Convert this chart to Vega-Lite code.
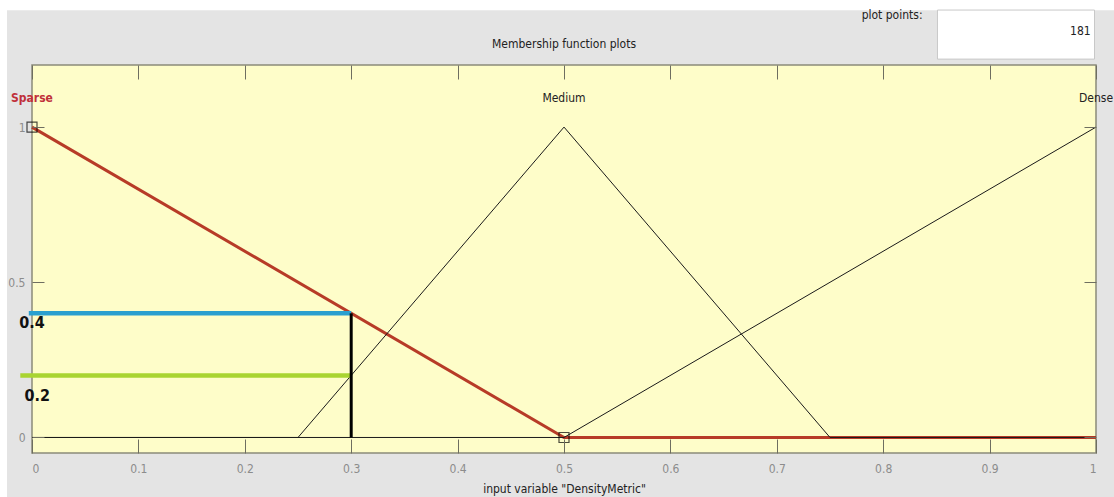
{
  "$schema": "https://vega.github.io/schema/vega-lite/v6.json",
  "width": 1064,
  "height": 388,
  "autosize": {"type": "none"},
  "padding": {"left": 32, "top": 65, "right": 18, "bottom": 44},
  "background": "#ffffff",
  "config": {
    "view": {"stroke": null},
    "font": "DejaVu Sans Condensed, Liberation Sans, sans-serif",
    "axis": {"grid": false, "domain": false, "tickColor": "#6e6e60", "labelColor": "#8c8c8c", "labelFont": "DejaVu Sans Condensed, Liberation Sans, sans-serif", "labelFontSize": 12}
  },
  "datasets": {
    "mf": [
      {"set": "Sparse", "x": 0, "mu": 1},
      {"set": "Sparse", "x": 0.5, "mu": 0},
      {"set": "Sparse", "x": 1, "mu": 0},
      {"set": "Medium", "x": 0, "mu": 0},
      {"set": "Medium", "x": 0.25, "mu": 0},
      {"set": "Medium", "x": 0.5, "mu": 1},
      {"set": "Medium", "x": 0.75, "mu": 0},
      {"set": "Medium", "x": 1, "mu": 0},
      {"set": "Dense", "x": 0, "mu": 0},
      {"set": "Dense", "x": 0.5, "mu": 0},
      {"set": "Dense", "x": 1, "mu": 1}
    ],
    "levels": [
      {"level": "0.4", "x0": -0.003, "x1": 0.3, "mu": 0.4, "c": "blue"},
      {"level": "0.2", "x0": -0.011, "x1": 0.3, "mu": 0.2, "c": "green"}
    ],
    "names": [
      {"name": "Sparse", "x": 0, "mu": 1.093},
      {"name": "Medium", "x": 0.5, "mu": 1.093},
      {"name": "Dense", "x": 1, "mu": 1.093}
    ]
  },
  "resolve": {"axis": {"x": "independent", "y": "independent"}},
  "layer": [
    {
      "data": {"values": [{"k": "bg"}]},
      "mark": {"type": "rect", "color": "#e4e4e4"},
      "encoding": {
        "x": {"datum": -0.0235, "type": "quantitative", "scale": {"domain": [0, 1], "nice": false, "zero": false},
          "axis": {"orient": "bottom", "zindex": 2, "values": [0, 0.1, 0.2, 0.3, 0.4, 0.5, 0.6, 0.7, 0.8, 0.9, 1], "format": "~g", "tickSize": -14, "labelPadding": 24, "title": "input variable \"DensityMetric\"", "titleFont": "DejaVu Sans Condensed, Liberation Sans, sans-serif", "titleFontSize": 12, "titleFontWeight": "normal", "titleColor": "#222222", "titlePadding": 9}},
        "x2": {"datum": 1.03},
        "y": {"datum": 1.3766, "type": "quantitative", "scale": {"domain": [-0.05, 1.2], "nice": false, "zero": false},
          "axis": {"orient": "left", "zindex": 2, "values": [0, 0.5, 1], "format": "~g", "tickSize": -12, "labelPadding": 19, "title": null}},
        "y2": {"datum": -0.3}
      }
    },
    {
      "data": {"values": [{"k": "plot"}]},
      "mark": {"type": "rect", "color": "#fefdc9", "stroke": "#8a8a7a", "strokeWidth": 1.5},
      "encoding": {
        "x": {"datum": 0, "type": "quantitative", "axis": {"orient": "top", "zindex": 2, "values": [0, 0.1, 0.2, 0.3, 0.4, 0.5, 0.6, 0.7, 0.8, 0.9, 1], "labels": false, "tickSize": -14, "title": null}},
        "x2": {"datum": 1},
        "y": {"datum": 1.2, "type": "quantitative", "axis": {"orient": "right", "zindex": 2, "values": [0, 0.5, 1], "labels": false, "tickSize": -12, "title": null}},
        "y2": {"datum": -0.05}
      }
    },
    {
      "data": {"values": [{"k": "box"}]},
      "mark": {"type": "rect", "color": "#ffffff", "stroke": "#c8c8c8", "strokeWidth": 1},
      "encoding": {
        "x": {"datum": 0.851, "type": "quantitative", "axis": null},
        "x2": {"datum": 0.9986},
        "y": {"datum": 1.377, "type": "quantitative", "axis": null},
        "y2": {"datum": 1.219}
      }
    },
    {
      "data": {"name": "mf"},
      "transform": [{"filter": "datum.set === 'Sparse'"}],
      "mark": {"type": "line", "color": "#b3301f", "strokeWidth": 3, "opacity": 0.95},
      "encoding": {
        "x": {"field": "x", "type": "quantitative", "axis": null},
        "y": {"field": "mu", "type": "quantitative", "axis": null}
      }
    },
    {
      "data": {"name": "mf"},
      "transform": [{"filter": "datum.set !== 'Sparse'"}],
      "mark": {"type": "line", "color": "#1a1a1a", "strokeWidth": 1},
      "encoding": {
        "x": {"field": "x", "type": "quantitative", "axis": null},
        "y": {"field": "mu", "type": "quantitative", "axis": null},
        "detail": {"field": "set"}
      }
    },
    {
      "data": {"name": "levels"},
      "mark": {"type": "rule", "strokeWidth": 4.5},
      "encoding": {
        "x": {"field": "x0", "type": "quantitative", "axis": null},
        "x2": {"field": "x1"},
        "y": {"field": "mu", "type": "quantitative", "axis": null},
        "color": {"condition": {"test": "datum.c === 'blue'", "value": "#2a9fcf"}, "value": "#a9d431"}
      }
    },
    {
      "data": {"values": [{"x": 0.3, "lo": 0, "hi": 0.4}]},
      "mark": {"type": "rule", "color": "#000000", "strokeWidth": 3},
      "encoding": {
        "x": {"field": "x", "type": "quantitative", "axis": null},
        "y": {"field": "lo", "type": "quantitative", "axis": null},
        "y2": {"field": "hi"}
      }
    },
    {
      "data": {"values": [{"x": 0, "mu": 1}, {"x": 0.5, "mu": 0}]},
      "mark": {"type": "square", "filled": false, "stroke": "#000000", "strokeWidth": 1.2, "size": 100},
      "encoding": {
        "x": {"field": "x", "type": "quantitative", "axis": null},
        "y": {"field": "mu", "type": "quantitative", "axis": null}
      }
    },
    {
      "data": {"values": [{"t": "0.4", "x": 0.0, "mu": 0.369}, {"t": "0.2", "x": 0.005, "mu": 0.134}]},
      "mark": {"type": "text", "font": "DejaVu Sans Condensed, Liberation Sans, sans-serif", "fontSize": 16, "fontWeight": "bold", "color": "#111111", "align": "center", "baseline": "middle"},
      "encoding": {
        "x": {"field": "x", "type": "quantitative", "axis": null},
        "y": {"field": "mu", "type": "quantitative", "axis": null},
        "text": {"field": "t"}
      }
    },
    {
      "data": {"name": "names"},
      "transform": [{"filter": "datum.name !== 'Sparse'"}],
      "mark": {"type": "text", "fontSize": 12, "align": "center", "baseline": "middle", "color": "#222222"},
      "encoding": {
        "x": {"field": "x", "type": "quantitative", "axis": null},
        "y": {"field": "mu", "type": "quantitative", "axis": null},
        "text": {"field": "name"}
      }
    },
    {
      "data": {"name": "names"},
      "transform": [{"filter": "datum.name === 'Sparse'"}],
      "mark": {"type": "text", "fontSize": 12, "fontWeight": "bold", "align": "center", "baseline": "middle", "color": "#c0303a"},
      "encoding": {
        "x": {"field": "x", "type": "quantitative", "axis": null},
        "y": {"field": "mu", "type": "quantitative", "axis": null},
        "text": {"field": "name"}
      }
    },
    {
      "data": {"values": [{"t": "Membership function plots", "x": 0.5, "mu": 1.267}]},
      "mark": {"type": "text", "fontSize": 12, "color": "#222222", "baseline": "middle", "align": "center"},
      "encoding": {
        "x": {"field": "x", "type": "quantitative", "axis": null},
        "y": {"field": "mu", "type": "quantitative", "axis": null},
        "text": {"field": "t"}
      }
    },
    {
      "data": {"values": [{"t": "plot points:", "x": 0.837, "mu": 1.36}, {"t": "181", "x": 0.995, "mu": 1.309}]},
      "mark": {"type": "text", "fontSize": 12, "color": "#222222", "baseline": "middle", "align": "right"},
      "encoding": {
        "x": {"field": "x", "type": "quantitative", "axis": null},
        "y": {"field": "mu", "type": "quantitative", "axis": null},
        "text": {"field": "t"}
      }
    }
  ]
}
